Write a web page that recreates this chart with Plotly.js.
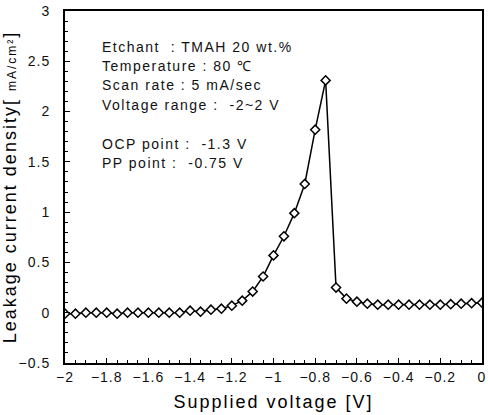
<!DOCTYPE html>
<html>
<head>
<meta charset="utf-8">
<script src="https://cdn.plot.ly/plotly-3.0.1.min.js"></script>
<style>
  html, body { margin: 0; padding: 0; background: #fff; }
  #chart { width: 488px; height: 415px; }
  .annotation-text { letter-spacing: 1.5px; }
  .xtitle, .ytitle { letter-spacing: 2px; }
  .xtick text, .ytick text { letter-spacing: 1px; }
</style>
</head>
<body>
<div id="chart"></div>
<script>
// Supplied voltage [V]
const voltage = [
  -2.00, -1.95, -1.90, -1.85, -1.80, -1.75, -1.70, -1.65, -1.60, -1.55,
  -1.50, -1.45, -1.40, -1.35, -1.30, -1.25, -1.20, -1.15, -1.10, -1.05,
  -1.00, -0.95, -0.90, -0.85, -0.80, -0.75, -0.70, -0.65, -0.60, -0.55,
  -0.50, -0.45, -0.40, -0.35, -0.30, -0.25, -0.20, -0.15, -0.10, -0.05,
   0.00
];
// Leakage current density [mA/cm2]
const density = [
  -0.01, -0.01, 0.00, 0.00, 0.00, -0.01, 0.00, 0.00, 0.00, 0.00,
   0.00, 0.00, 0.02, 0.01, 0.03, 0.04, 0.07, 0.12, 0.21, 0.36,
   0.57, 0.76, 0.99, 1.28, 1.82, 2.31, 0.25, 0.14, 0.11, 0.09,
   0.08, 0.08, 0.08, 0.08, 0.08, 0.08, 0.08, 0.085, 0.09, 0.095,
   0.10
];
const xTickVals = [-2, -1.8, -1.6, -1.4, -1.2, -1, -0.8, -0.6, -0.4, -0.2, 0];
const yTickVals = [-0.5, 0, 0.5, 1, 1.5, 2, 2.5, 3];
const noteLines = [
  "Etchant  : TMAH 20 wt.%",
  "Temperature : 80 \u2103",
  "Scan rate : 5 mA/sec",
  "Voltage range :  -2~2 V",
  "OCP point :  -1.3 V",
  "PP point :  -0.75 V"
];
const noteY = [0.899, 0.844, 0.790, 0.733, 0.622, 0.567];

const font = "Liberation Sans, Arial, sans-serif";

const trace = {
  x: voltage,
  y: density,
  type: "scatter",
  mode: "lines+markers",
  line: { color: "#000", width: 1.5 },
  marker: { symbol: "diamond", size: 7, color: "#fff", line: { color: "#000", width: 1.5 } },
  showlegend: false,
  hoverinfo: "x+y"
};

const annotations = noteLines.map((t, i) => ({
  text: t, xref: "paper", yref: "paper", x: 0.084, y: noteY[i],
  xanchor: "left", yanchor: "middle", showarrow: false,
  font: { family: font, size: 14, color: "#111" }
}));

const layout = {
  width: 488, height: 415,
  margin: { l: 65, r: 6, t: 11, b: 52 },
  paper_bgcolor: "#fff", plot_bgcolor: "#fff",
  font: { family: font, color: "#111" },
  xaxis: {
    range: [-2, 0],
    tickvals: xTickVals,
    ticks: "inside", ticklen: 5, tickwidth: 1, tickcolor: "#000",
    minor: { dtick: 0.05, ticks: "inside", ticklen: 3, tickcolor: "#000" },
    showline: true, linewidth: 2, linecolor: "#000", mirror: true,
    showgrid: false, zeroline: false,
    tickfont: { family: font, size: 14, color: "#111" },
    title: { text: "Supplied voltage [V]", font: { family: font, size: 18, color: "#000" }, standoff: 12 }
  },
  yaxis: {
    range: [-0.5, 3],
    tickvals: yTickVals,
    ticks: "inside", ticklen: 5, tickwidth: 1, tickcolor: "#000",
    minor: { dtick: 0.1, ticks: "inside", ticklen: 3, tickcolor: "#000" },
    showline: true, linewidth: 2, linecolor: "#000", mirror: true,
    showgrid: false, zeroline: false,
    ticklabelstandoff: 10,
    tickfont: { family: font, size: 14, color: "#111" },
    title: { text: "Leakage current density[ <span style=\"font-size:12px\">mA/cm\u00b2</span>]", font: { family: font, size: 18, color: "#000" }, standoff: 0 }
  },
  annotations: annotations
};

Plotly.newPlot("chart", [trace], layout, { displayModeBar: false, staticPlot: true });
</script>
</body>
</html>
